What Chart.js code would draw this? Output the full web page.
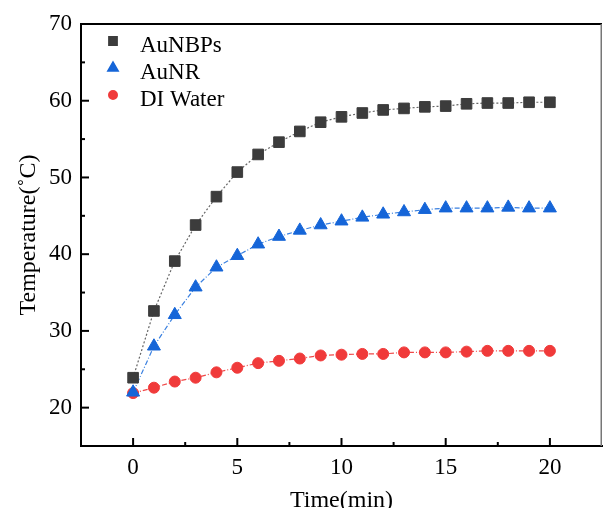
<!DOCTYPE html>
<html>
<head>
<meta charset="utf-8">
<script src="https://cdn.jsdelivr.net/npm/chart.js@4.4.1/dist/chart.umd.min.js"></script>
<style>
  html, body { margin: 0; padding: 0; background: #fff; }
  #wrap { width: 603px; height: 508px; }
</style>
</head>
<body>
<div id="wrap"><canvas id="grafico"></canvas></div>
<script>
// tiempo en minutos
const tiempo = [0, 1, 2, 3, 4, 5, 6, 7, 8, 9, 10, 11, 12, 13, 14, 15, 16, 17, 18, 19, 20];

// temperaturas (°C)
const auNBPs = [23.9, 32.6, 39.1, 43.8, 47.5, 50.7, 53.0, 54.6, 56.0, 57.2, 57.9, 58.4, 58.8, 59.0, 59.2, 59.3, 59.6, 59.7, 59.7, 59.8, 59.8];
const auNR = [22.0, 28.0, 32.1, 35.7, 38.3, 39.8, 41.3, 42.3, 43.1, 43.8, 44.3, 44.8, 45.2, 45.5, 45.8, 46.0, 46.0, 46.0, 46.1, 46.0, 46.0];
const diWater = [21.9, 22.6, 23.4, 23.9, 24.6, 25.2, 25.8, 26.1, 26.4, 26.8, 26.9, 27.0, 27.0, 27.2, 27.2, 27.2, 27.3, 27.4, 27.4, 27.4, 27.4];

const nombres = ['AuNBPs', 'AuNR', 'DI Water'];

// marcas de los ejes
const yTicks = [20, 30, 40, 50, 60, 70];
const yMinor = [25, 35, 45, 55, 65];
const xTicks = [0, 5, 10, 15, 20];
const xMinor = [2.5, 7.5, 12.5, 17.5];

const FUENTE = "'Liberation Serif', 'Times New Roman', serif";

function puntos(valores) {
    return tiempo.map((t, i) => ({ x: t, y: valores[i] }));
}

// ticks hacia dentro, marco y leyenda
const extras = {
    id: 'extras',
    afterDraw(chart) {
        const ctx = chart.ctx;
        const a = chart.chartArea;
        const xs = chart.scales.x;
        const ys = chart.scales.y;
        ctx.save();

        // marco superior y derecho
        ctx.strokeStyle = '#000';
        ctx.lineWidth = 2;
        ctx.beginPath();
        ctx.moveTo(a.left, a.top);
        ctx.lineTo(a.right, a.top);
        ctx.stroke();
        ctx.strokeStyle = '#777';
        ctx.lineWidth = 1.5;
        ctx.beginPath();
        ctx.moveTo(a.right - 0.75, a.top);
        ctx.lineTo(a.right - 0.75, a.bottom);
        ctx.stroke();

        // ticks
        ctx.strokeStyle = '#000';
        ctx.lineWidth = 2;
        xTicks.concat(xMinor).forEach(v => {
            const px = xs.getPixelForValue(v);
            const largo = xTicks.includes(v) ? 8 : 4;
            ctx.beginPath();
            ctx.moveTo(px, a.bottom);
            ctx.lineTo(px, a.bottom - largo);
            ctx.stroke();
        });
        yTicks.concat(yMinor).forEach(v => {
            const py = ys.getPixelForValue(v);
            const largo = yTicks.includes(v) ? 8 : 4;
            ctx.beginPath();
            ctx.moveTo(a.left, py);
            ctx.lineTo(a.left + largo, py);
            ctx.stroke();
        });

        // leyenda
        const filas = [41, 68, 95];
        chart.data.datasets.forEach((ds, i) => {
            const y = filas[i];
            ctx.fillStyle = ds.pointBackgroundColor;
            ctx.strokeStyle = ds.pointBackgroundColor;
            Chart.helpers.drawPoint(ctx, {
                pointStyle: ds.pointStyle,
                radius: ds.pointStyle === 'circle' ? 4 : 5.5,
                rotation: 0,
                borderWidth: 1
            }, 113, y);
            ctx.fillStyle = '#000';
            ctx.font = '23px ' + FUENTE;
            ctx.textAlign = 'left';
            ctx.textBaseline = 'alphabetic';
            ctx.fillText(ds.label, 140, y + 11);
        });
        ctx.restore();
    }
};

const ctx = document.getElementById('grafico').getContext('2d');

new Chart(ctx, {
    type: 'line',
    data: {
        datasets: [{
            label: nombres[0],
            data: puntos(auNBPs),
            borderColor: '#666',
            borderWidth: 1.2,
            borderDash: [2, 2],
            pointStyle: 'rect',
            pointRadius: 7.5,
            pointBackgroundColor: '#3c3c3c',
            pointBorderColor: '#3c3c3c',
            pointBorderWidth: 1
        }, {
            label: nombres[1],
            data: puntos(auNR),
            borderColor: '#3a80e0',
            borderWidth: 1.2,
            borderDash: [5, 2, 1, 2],
            pointStyle: 'triangle',
            pointRadius: 7.5,
            pointBackgroundColor: '#1565d8',
            pointBorderColor: '#1565d8',
            pointBorderWidth: 1
        }, {
            label: nombres[2],
            data: puntos(diWater),
            borderColor: '#f04848',
            borderWidth: 1.2,
            borderDash: [5, 2, 1, 2],
            pointStyle: 'circle',
            pointRadius: 5.5,
            pointBackgroundColor: '#f03a3a',
            pointBorderColor: '#f03a3a',
            pointBorderWidth: 1
        }]
    },
    options: {
        responsive: true,
        maintainAspectRatio: false,
        animation: false,
        layout: { autoPadding: false, padding: { top: 24, right: 1, left: 0, bottom: 0 } },
        plugins: {
            legend: { display: false },
            tooltip: { enabled: false }
        },
        scales: {
            x: {
                type: 'linear',
                min: -2.5,
                max: 22.5,
                afterBuildTicks: s => { s.ticks = xTicks.map(v => ({ value: v })); },
                afterFit: s => {
                    s.height = 62;
                    s.paddingLeft = 0;
                    s.paddingRight = 0;
                },
                grid: { display: false, drawTicks: false },
                border: { display: true, color: '#000', width: 2 },
                ticks: {
                    color: '#000',
                    padding: 8,
                    maxRotation: 0,
                    font: { family: FUENTE, size: 23 }
                },
                title: {
                    display: true,
                    text: 'Time(min)',
                    color: '#000',
                    padding: { top: 0, bottom: -7 },
                    font: { family: FUENTE, size: 24 }
                }
            },
            y: {
                min: 15,
                max: 70,
                afterBuildTicks: s => { s.ticks = yTicks.map(v => ({ value: v })); },
                afterFit: s => {
                    s.width = 81;
                    s.paddingTop = 0;
                    s.paddingBottom = 0;
                },
                grid: { display: false, drawTicks: false },
                border: { display: true, color: '#000', width: 2 },
                ticks: {
                    color: '#000',
                    padding: 9,
                    font: { family: FUENTE, size: 23 }
                },
                title: {
                    display: true,
                    text: 'Temperature(˚C)',
                    color: '#000',
                    padding: { top: 14, bottom: 0 },
                    font: { family: FUENTE, size: 24 }
                }
            }
        }
    },
    plugins: [extras]
});
</script>
</body>
</html>
